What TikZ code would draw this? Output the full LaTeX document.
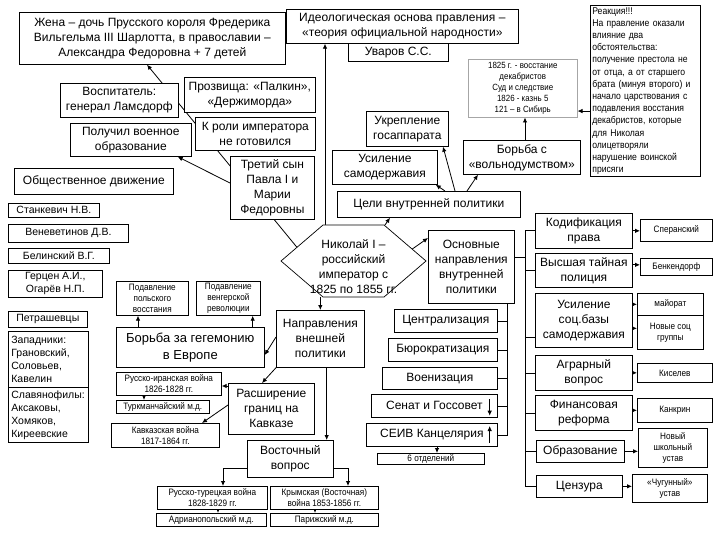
\documentclass[tikz,border=0pt]{standalone}
\usepackage{fontspec}
\setmainfont{Liberation Sans}
\newfontfamily\narrowfont[FakeStretch=0.88]{Liberation Sans}
\usepackage{tikz}
\usetikzlibrary{arrows.meta,calc}
\pgfdeclarelayer{back}
\pgfsetlayers{back,main}

\tikzset{
  box/.style={draw, fill=white, line width=0.7pt, anchor=north west, align=center, inner sep=1pt},
  bigtxt/.style={font=\fontsize{12}{15}\selectfont},
  midtxt/.style={font=\fontsize{10.5}{13}\selectfont},
  smalltxt/.style={font=\narrowfont\fontsize{9.3}{11}\selectfont},
  arr/.style={-{Latex[length=5pt,width=4.5pt]}, line width=0.8pt},
  link/.style={line width=0.7pt}
}

\begin{document}
\begin{tikzpicture}[x=1pt,y=-1pt]
\useasboundingbox (0,0) rectangle (720,540);

\node[box, bigtxt, minimum width=266, minimum height=52] (wife) at (19,12) {Жена – дочь Прусского короля Фредерика\\Вильгельма III Шарлотта, в православии –\\Александра Федоровна + 7 детей};
\node[box, bigtxt, minimum width=100, minimum height=18] (uvarov) at (348,43) {Уваров С.С.};
\node[box, bigtxt, minimum width=232, minimum height=34] (ideo) at (286,9) {Идеологическая основа правления –\\«теория официальной народности»};
\node[box, align=left, text width=106, inner sep=2pt, minimum height=170, font=\narrowfont\fontsize{9.8}{12.2}\selectfont] (reaction) at (590,5) {Реакция!!!\\На правление оказали\\влияние два\\обстоятельства:\\получение престола не\\от отца, а от старшего\\брата (минуя второго) и\\начало царствования с\\подавления восстания\\декабристов, которые\\для Николая\\олицетворяли\\нарушение воинской\\присяги};
\node[box, draw=gray!70, line width=0.5pt, font=\narrowfont\fontsize{9}{11.2}\selectfont, minimum width=109, minimum height=58] (decemb) at (468,59) {1825 г. - восстание\\декабристов\\Суд и следствие\\1826 - казнь 5\\121 – в Сибирь};

\node[box, bigtxt, minimum width=118, minimum height=34] (vospit) at (60,83) {Воспитатель:\\генерал  Ламсдорф};
\node[box, bigtxt, minimum width=131, minimum height=35] (nick) at (184,77) {Прозвища: «Палкин»,\\«Держиморда»};
\node[box, bigtxt, minimum width=120, minimum height=33] (notready) at (195,117) {К роли императора\\не готовился};
\node[box, bigtxt, minimum width=121, minimum height=33] (military) at (70,123) {Получил военное\\образование};
\node[box, bigtxt, minimum width=84, minimum height=63] (son) at (230,156) {Третий сын\\Павла I и\\Марии\\Федоровны};

\node[box, bigtxt, minimum width=159, minimum height=26] (social) at (14,168) {Общественное движение};
\node[box, midtxt, minimum width=91, minimum height=14] (stank) at (8,203) {Станкевич Н.В.};
\node[box, midtxt, minimum width=120, minimum height=18] (venev) at (8,224) {Веневетинов Д.В.};
\node[box, midtxt, minimum width=101, minimum height=15] (belin) at (8,248) {Белинский В.Г.};
\node[box, midtxt, minimum width=94, minimum height=27] (herzen) at (8,270) {Герцен А.И.,\\Огарёв Н.П.};
\node[box, midtxt, minimum width=79, minimum height=16] (petr) at (8,311) {Петрашевцы};
\node[box, midtxt, align=left, text width=74, inner sep=3pt, minimum height=56] (zapad) at (8,331) {Западники:\\Грановский,\\Соловьев,\\Кавелин};
\node[box, midtxt, align=left, text width=74, inner sep=3pt, minimum height=55] (slav) at (8,387) {Славянофилы:\\Аксаковы,\\Хомяков,\\Киреевские};

\node[box, bigtxt, minimum width=82, minimum height=35] (strength) at (366,111) {Укрепление\\госаппарата};
\node[box, bigtxt, minimum width=105, minimum height=34] (autocr) at (332,150) {Усиление\\самодержавия};
\node[box, bigtxt, minimum width=117, minimum height=34] (fight) at (463,140) {Борьба с\\«вольнодумством»};
\node[box, bigtxt, minimum width=183, minimum height=26] (goals) at (337,191) {Цели внутренней политики};

\draw[link, fill=white] (281,261) coordinate (hW) -- (323,225) coordinate (hNW) -- (384,225) coordinate (hNE)
  -- (426,261) coordinate (hE) -- (384,297) coordinate (hSE) -- (323,297) coordinate (hSW) -- cycle;
\node[bigtxt, align=center] (nic) at (353.5,267) {Николай I –\\российский\\император с\\1825 по 1855 гг.};

\node[box, bigtxt, minimum width=86, minimum height=73] (inner) at (428,230) {Основные\\направления\\внутренней\\политики};
\node[box, bigtxt, minimum width=103, minimum height=23] (centr) at (394,309) {Централизация};
\node[box, bigtxt, minimum width=109, minimum height=23] (bureau) at (388,338) {Бюрократизация};
\node[box, bigtxt, minimum width=115, minimum height=22] (milit) at (382,367) {Военизация};
\node[box, bigtxt, minimum width=126, minimum height=23] (senate) at (371,394) {Сенат и Госсовет};
\node[box, bigtxt, minimum width=131, minimum height=23] (seiv) at (366,423) {СЕИВ Канцелярия};
\node[box, smalltxt, minimum width=107, minimum height=11] (six) at (377,453) {6 отделений};

\node[box, bigtxt, minimum width=88, minimum height=57] (foreign) at (276,310) {Направления\\внешней\\политики};
\node[box, smalltxt, minimum width=72, minimum height=34] (poland) at (116,281) {Подавление\\польского\\восстания};
\node[box, smalltxt, minimum width=64, minimum height=34] (hungary) at (196,281) {Подавление\\венгерской\\революции};
\node[box, font=\fontsize{13}{17}\selectfont, minimum width=148, minimum height=40] (hegem) at (116,327) {Борьба за гегемонию\\в Европе};
\node[box, smalltxt, minimum width=105, minimum height=23] (iran) at (116,372) {Русско-иранская война\\1826-1828 гг.};
\node[box, smalltxt, minimum width=93, minimum height=13] (turkm) at (116,400) {Туркманчайский м.д.};
\node[box, smalltxt, minimum width=108, minimum height=24] (caucwar) at (111,423) {Кавказская война\\1817-1864 гг.};
\node[box, bigtxt, minimum width=86, minimum height=51] (expand) at (228,383) {Расширение\\границ на\\Кавказе};
\node[box, bigtxt, minimum width=86, minimum height=37] (eastern) at (247,440) {Восточный\\вопрос};
\node[box, smalltxt, minimum width=110, minimum height=23] (rusturk) at (157,486) {Русско-турецкая война\\1828-1829 гг.};
\node[box, smalltxt, minimum width=110, minimum height=13] (adrian) at (156,513) {Адрианопольский м.д.};
\node[box, smalltxt, minimum width=108, minimum height=23] (crimea) at (270,486) {Крымская (Восточная)\\война 1853-1856 гг.};
\node[box, smalltxt, minimum width=108, minimum height=13] (paris) at (270,513) {Парижский м.д.};

\node[box, bigtxt, minimum width=97, minimum height=35] (codif) at (535,213) {Кодификация\\права};
\node[box, bigtxt, minimum width=97, minimum height=34] (police) at (535,253) {Высшая тайная\\полиция};
\node[box, bigtxt, minimum width=97, minimum height=54] (socbase) at (535,293) {Усиление\\соц.базы\\самодержавия};
\node[box, bigtxt, minimum width=97, minimum height=35] (agrar) at (535,355) {Аграрный\\вопрос};
\node[box, bigtxt, minimum width=97, minimum height=35] (finance) at (535,395) {Финансовая\\реформа};
\node[box, bigtxt, minimum width=88, minimum height=22] (educ) at (536,440) {Образование};
\node[box, bigtxt, minimum width=86, minimum height=22] (censor) at (536,475) {Цензура};
\node[box, smalltxt, minimum width=72, minimum height=22] (speran) at (640,219) {Сперанский};
\node[box, smalltxt, minimum width=72, minimum height=17] (benk) at (640,258) {Бенкендорф};
\node[box, smalltxt, minimum width=66, minimum height=22] (major) at (637,293) {майорат};
\node[box, smalltxt, minimum width=66, minimum height=34] (newgr) at (637,315) {Новые соц\\группы};
\node[box, smalltxt, minimum width=75, minimum height=19] (kisel) at (637,363) {Киселев};
\node[box, smalltxt, minimum width=75, minimum height=24] (kankr) at (637,398) {Канкрин};
\node[box, smalltxt, minimum width=69, minimum height=39] (school) at (638,428) {Новый\\школьный\\устав};
\node[box, smalltxt, minimum width=75, minimum height=28] (iron) at (632,474) {«Чугунный»\\устав};

\draw[arr] ([xshift=-8pt,yshift=-5pt]senate.north east) -- ([xshift=-8pt,yshift=2pt]senate.south east);
\draw[arr] ([xshift=-8pt,yshift=4pt]seiv.south east) -- ([xshift=-8pt,yshift=-3pt]seiv.north east);

\begin{pgfonlayer}{back}
\draw[arr] ($(hW)!0.38!(hNW)$) -- ([xshift=128pt]wife.south west);
\draw[arr] ([yshift=-27pt]son.north west) -- ([xshift=-14pt]military.south east);
\draw[arr] ([xshift=2pt]hNW) -- ([xshift=2pt]hNW |- ideo.south);
\draw[arr] ([xshift=1pt]hNE) -- ([xshift=53pt]goals.south west);
\draw[arr] ([xshift=108pt]goals.north west) -- ([xshift=-2pt]autocr.south east);
\draw[arr] ([xshift=118pt]goals.north west) -- ([xshift=77pt]strength.south west);
\draw[arr] ([xshift=130pt]goals.north west) -- ([xshift=15pt]fight.south west);
\draw[arr] ([xshift=62pt]fight.north west) -- ([xshift=62pt]fight.north west |- decemb.south);
\draw[arr] ([yshift=-20pt]reaction.west) -- ([yshift=-20pt]reaction.west -| decemb.east);
\draw[arr] ($(hNE)!0.67!(hE)$) -- ([yshift=-8pt]inner.north west);
\draw[arr] (foreign.north |- hSW) -- (foreign.north);

\coordinate (lbar) at ([xshift=-7pt]inner.south east);
\draw[link] (lbar) |- (seiv.east);
\foreach \n in {centr, bureau, milit, senate}
  \draw[link] (\n.east) -- (\n.east -| lbar);
\coordinate (rbar) at ([xshift=-10pt]codif.west);
\draw[link] (codif.west) -- (rbar) |- (censor.west);
\foreach \n in {police, agrar, finance, educ}
  \draw[link] (\n.west) -- (\n.west -| rbar);
\draw[link] ([yshift=-17pt]socbase.west) -- ([yshift=-17pt]socbase.west -| rbar);
\draw[link] ([yshift=9.5pt]inner.east) -- ([yshift=9.5pt]inner.east -| rbar);

\draw[arr] (codif.east) -- (codif.east -| speran.west);
\draw[arr] ([yshift=2pt]benk.west -| police.east) -- ([yshift=2pt]benk.west);
\draw[arr] (major.west -| socbase.east) -- (major.west);
\draw[arr] ([yshift=4pt]newgr.west -| socbase.east) -- ([yshift=4pt]newgr.west);
\draw[arr] (kisel.west -| agrar.east) -- (kisel.west);
\draw[arr] (kankr.west -| finance.east) -- (kankr.west);
\draw[arr] (educ.east) -- (educ.east -| school.west);
\draw[arr] (censor.east) -- (censor.east -| iron.west);
\draw[arr] ([xshift=71pt]seiv.south west) -- ([xshift=71pt]seiv.south west |- six.north);

\draw[arr] ([yshift=-27pt]foreign.north west) -- ([yshift=-28pt]hegem.north east);
\draw[arr] (foreign.south west) -- ([xshift=34pt]expand.north west);
\draw[arr] ([yshift=-3pt]expand.north west) -- ([yshift=-3pt]expand.north west -| iran.east);
\draw[arr] ([yshift=-22pt]expand.north west) -- ([xshift=91pt]caucwar.north west);
\draw[arr] ([xshift=22pt]hegem.north west) -- ([xshift=22pt]hegem.north west |- poland.south);
\draw[arr] ([xshift=-12pt]hegem.north east) -- ([xshift=-12pt]hegem.north east |- hungary.south);
\draw[arr] ([xshift=28pt]iran.south west) -- ([xshift=28pt]iran.south west |- turkm.north);
\draw[arr] ([xshift=-38pt]foreign.south east) -- ([xshift=-38pt]foreign.south east |- eastern.north);
\draw[arr] ([yshift=-28pt]eastern.north west) -| ([xshift=66pt]rusturk.north west);
\draw[arr] ([yshift=-28pt]eastern.north east) -| ([xshift=78pt]crimea.north west);
\draw[arr] ([xshift=61pt]rusturk.south west) -- ([xshift=61pt]rusturk.south west |- adrian.north);
\draw[arr] ([xshift=45pt]crimea.south west) -- ([xshift=45pt]crimea.south west |- paris.north);
\end{pgfonlayer}

\end{tikzpicture}
\end{document}
